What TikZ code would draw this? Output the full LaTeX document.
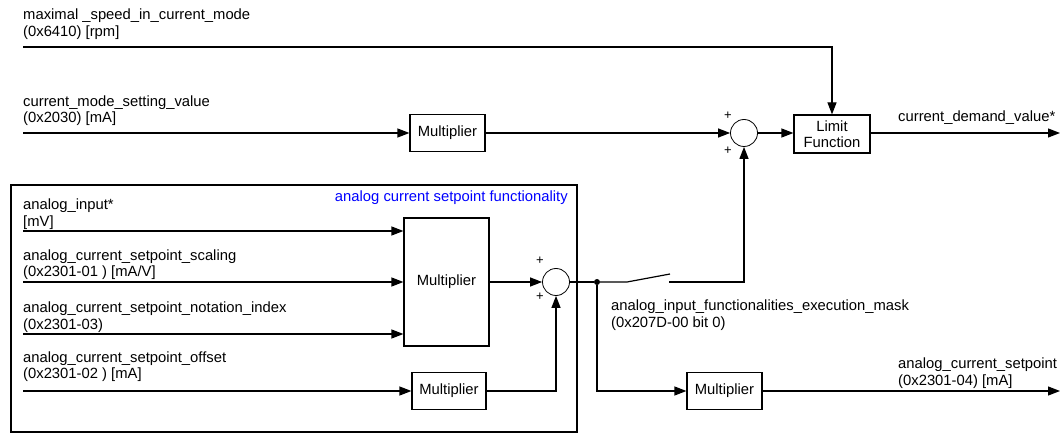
\documentclass[tikz,border=0pt]{standalone}
\usepackage{fontspec}
\setmainfont{Liberation Sans}
\usetikzlibrary{arrows.meta}
\begin{document}
\begin{tikzpicture}[x=1pt,y=-1pt,
  every node/.style={font=\fontsize{14.8}{16.5}\selectfont},
  wire/.style={line width=1.2pt},
  arr/.style={wire,-{Triangle[length=12pt,width=9pt]}},
  blk/.style={draw,line width=1.2pt,minimum height=37pt,inner sep=0pt},
  sumnode/.style={draw,circle,line width=0.8pt,minimum size=27pt,inner sep=0pt},
  lbl/.style={anchor=west,align=left,inner sep=0pt},
  plus/.style={inner sep=0pt,font=\fontsize{13}{13}\selectfont}]
\useasboundingbox (0,0) rectangle (1064,435);

% frame of analog current setpoint functionality
\node[draw,line width=2.5pt,minimum width=566pt,minimum height=247pt,inner sep=0pt] (frame) at (294,308.5) {};
\node[anchor=east,text=blue,inner sep=0pt] (title) at (568,198) {analog current setpoint functionality};

% free ends
\coordinate (in1) at (23,47);
\coordinate (in2) at (23,133);
\coordinate (in3) at (23,231);
\coordinate (in4) at (23,282);
\coordinate (in5) at (23,334);
\coordinate (in6) at (23,391);
\coordinate (out1) at (1060,133);
\coordinate (out2) at (1060,391);
\coordinate (sw1) at (627,282);
\coordinate (sw2) at (670,274);
\coordinate (sw3) at (669,282);

% blocks
\node[blk,minimum width=75pt] (mul1) at (447.5,133) {Multiplier};
\node[sumnode] (sum1) at (744,133) {};
\node[blk,minimum width=76pt,minimum height=38pt,align=center] (limit) at (832,134) {Limit\\Function};
\node[blk,minimum width=85pt,minimum height=128pt] (mul0) at (446.5,282) {Multiplier};
\node[sumnode] (sum2) at (556,282) {};
\node[blk,minimum width=74pt] (mul2) at (449,391) {Multiplier};
\node[circle,fill,inner sep=0pt,minimum size=6pt] (dot) at (597,282) {};
\node[blk,minimum width=75pt] (mul3) at (724.5,391) {Multiplier};

% plus signs
\node[plus] (p1) at (728,116) {+};
\node[plus] (p2) at (728,151) {+};
\node[plus] (p3) at (540,261) {+};
\node[plus] (p4) at (540,297) {+};

% labels
\node[lbl] (l1) at (23,24) {maximal \_speed\_in\_current\_mode\\(0x6410) [rpm]};
\node[lbl] (l2) at (23,110.5) {current\_mode\_setting\_value\\(0x2030) [mA]};
\node[lbl] (l3) at (23,214) {analog\_input*\\{}[mV]};
\node[lbl] (l4) at (23,264.5) {analog\_current\_setpoint\_scaling\\(0x2301-01 ) [mA/V]};
\node[lbl] (l5) at (23,317) {analog\_current\_setpoint\_notation\_index\\(0x2301-03)};
\node[lbl] (l6) at (23,366.5) {analog\_current\_setpoint\_offset\\(0x2301-02 ) [mA]};
\node[lbl] (l7) at (611,315) {analog\_input\_functionalities\_execution\_mask\\(0x207D-00 bit 0)};
\node[lbl] (l8) at (898,373) {analog\_current\_setpoint\\(0x2301-04) [mA]};
\node[anchor=west,inner sep=0pt] (l9) at (898,118) {current\_demand\_value*};

% connectors
\draw[arr] (in1) -| (limit.north);
\draw[arr] (in2) -- (mul1.west);
\draw[arr] (mul1.east) -- (sum1.west);
\draw[arr] (sum1.east) -- (sum1.east -| limit.west);
\draw[arr] (limit.east |- out1) -- (out1);
\draw[arr] (in3) -- (in3 -| mul0.west);
\draw[arr] (in4) -- (mul0.west);
\draw[arr] (in5) -- (in5 -| mul0.west);
\draw[arr] (in6) -- (mul2.west);
\draw[arr] (mul0.east) -- (sum2.west);
\draw[arr] (mul2.east) -| (sum2.south);
\draw[wire] (sum2.east) -- (dot);
\draw[wire] (dot) -- (sw1) -- (sw2);
\draw[arr] (sw3) -| (sum1.south);
\draw[arr] (dot) |- (mul3.west);
\draw[arr] (mul3.east) -- (out2);
\end{tikzpicture}
\end{document}
